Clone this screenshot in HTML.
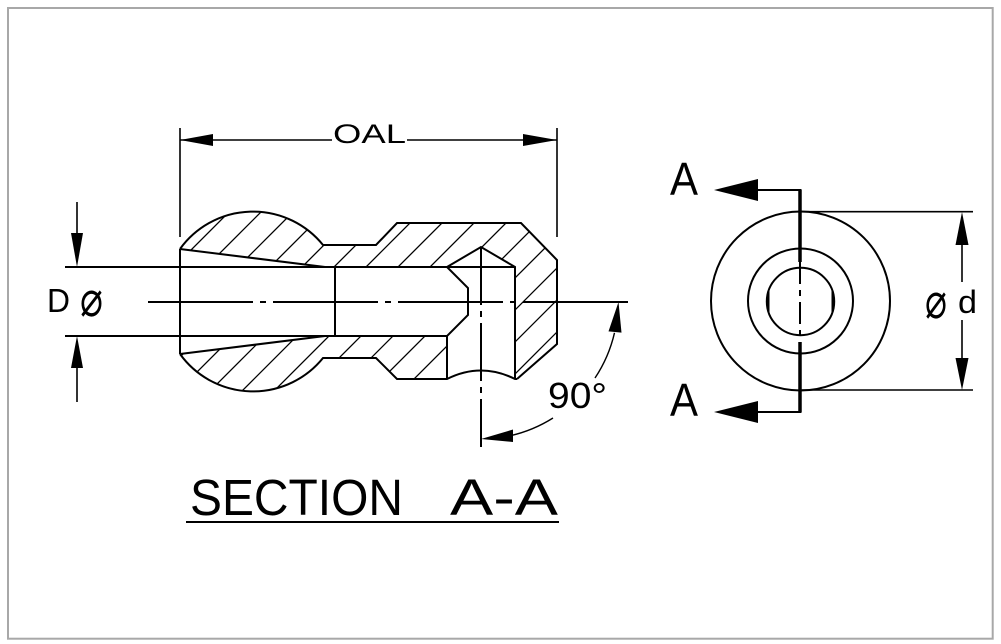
<!DOCTYPE html>
<html>
<head>
<meta charset="utf-8">
<style>
  html, body { margin: 0; padding: 0; background: #fff; }
  svg { display: block; }
  text { font-family: "Liberation Sans", "DejaVu Sans", sans-serif; fill: #000; }
  .sym { font-family: "DejaVu Sans", sans-serif; }
</style>
</head>
<body>
<svg width="1001" height="644" viewBox="0 0 1001 644" xmlns="http://www.w3.org/2000/svg">
  <defs>
    <clipPath id="solid">
      <path d="M180,249 A90,90 0 0 1 323,245 L376,245 L397,223 L521,223 L557,260 L557,344 L517,379 L515,379 L515,267 L481,247 L447,267 L325,267 Z"/>
      <path d="M180,354 L325,336 L447,336 L447,379 L397,379 L376,358 L323,358 A90,90 0 0 1 180,354 Z"/>
    </clipPath>
  </defs>

  <!-- frame -->
  <rect x="8" y="8" width="984.7" height="630.7" fill="none" stroke="#a8a8a8" stroke-width="2"/>

  <!-- hatching -->
  <g clip-path="url(#solid)" stroke="#000" stroke-width="1.3">
    <line x1="9" y1="400" x2="209" y2="200"/>
    <line x1="41" y1="400" x2="241" y2="200"/>
    <line x1="73" y1="400" x2="273" y2="200"/>
    <line x1="105" y1="400" x2="305" y2="200"/>
    <line x1="137" y1="400" x2="337" y2="200"/>
    <line x1="169" y1="400" x2="369" y2="200"/>
    <line x1="201" y1="400" x2="401" y2="200"/>
    <line x1="233" y1="400" x2="433" y2="200"/>
    <line x1="265" y1="400" x2="465" y2="200"/>
    <line x1="297" y1="400" x2="497" y2="200"/>
    <line x1="329" y1="400" x2="529" y2="200"/>
    <line x1="361" y1="400" x2="561" y2="200"/>
    <line x1="393" y1="400" x2="593" y2="200"/>
    <line x1="425" y1="400" x2="625" y2="200"/>
    <line x1="457" y1="400" x2="657" y2="200"/>
    <line x1="489" y1="400" x2="689" y2="200"/>
    <line x1="521" y1="400" x2="721" y2="200"/>
    <line x1="553" y1="400" x2="753" y2="200"/>
  </g>

  <!-- main outlines -->
  <g fill="none" stroke="#000" stroke-width="2" stroke-linejoin="miter">
    <path d="M180,249 A90,90 0 0 1 323,245 L376,245 L397,223 L521,223 L557,260 L557,344 L517,379"/>
    <path d="M180,354 A90,90 0 0 0 323,358 L376,358 L397,379 L447,379 Q481,362 515,379 L517,379"/>
    <path d="M180,249 L180,354"/>
    <path d="M180,249 L325,267"/>
    <path d="M180,354 L325,336"/>
    <path d="M325,267 L515,267"/>
    <path d="M325,336 L447,336"/>
    <path d="M335,267 L335,336"/>
    <path d="M447,267 L468,288 L468,315 L447,336 L447,379"/>
    <path d="M447,267 L481,247 L515,267 L515,379"/>
    <!-- D extension lines -->
    <path d="M65,267 L325,267"/>
    <path d="M65,336 L325,336"/>
  </g>

  <!-- center lines -->
  <g fill="none" stroke="#000" stroke-width="2">
    <path d="M148,302 L630,302" stroke-dasharray="105,7,6,7"/>
    <path d="M481,247 L481,447" stroke-dasharray="58,6,6,6"/>
  </g>

  <!-- OAL dimension -->
  <g stroke="#000" stroke-width="1.6" fill="none">
    <path d="M180,128 L180,237"/>
    <path d="M557,128 L557,237"/>
    <path d="M180,140 L332,140"/>
    <path d="M407,140 L557,140"/>
  </g>
  <polygon points="180,140 213,134 213,146" fill="#000"/>
  <polygon points="557,140 523,134 523,146" fill="#000"/>
  <text x="333" y="143" font-size="27" textLength="73" lengthAdjust="spacingAndGlyphs">OAL</text>

  <!-- D dimension -->
  <g stroke="#000" stroke-width="1.6" fill="none">
    <path d="M77,202 L77,240"/>
    <path d="M77,360 L77,402"/>
  </g>
  <polygon points="77,267 71,233 83,233" fill="#000"/>
  <polygon points="77,336 71,368 83,368" fill="#000"/>
  <text x="47" y="312" font-size="33" textLength="23" lengthAdjust="spacingAndGlyphs">D</text>
  <text class="sym" x="80" y="316" font-size="50" textLength="23" lengthAdjust="spacingAndGlyphs">⌀</text>

  <!-- 90 degree -->
  <g stroke="#000" stroke-width="1.4" fill="none">
    <path d="M614.5,332.8 A137,137 0 0 1 595,378"/>
    <path d="M553,418 A137,137 0 0 1 510,435.8"/>
  </g>
  <polygon points="618.5,302 608.5,331.4 621.5,332.6" fill="#000"/>
  <polygon points="481,439 513,429.5 513,442" fill="#000"/>
  <text x="548" y="408" font-size="36" textLength="59" lengthAdjust="spacingAndGlyphs">90°</text>

  <!-- section title -->
  <text x="190" y="515" font-size="51" textLength="213" lengthAdjust="spacingAndGlyphs">SECTION</text>
  <text x="450" y="515" font-size="51" textLength="108" lengthAdjust="spacingAndGlyphs">A-A</text>
  <line x1="186" y1="522" x2="559" y2="522" stroke="#000" stroke-width="2"/>

  <!-- right view -->
  <g fill="none" stroke="#000" stroke-width="2">
    <circle cx="800.5" cy="301" r="89.5"/>
    <circle cx="800.5" cy="301" r="52.5"/>
    <circle cx="800.5" cy="301.5" r="33.7"/>
    <path d="M768.5,291 L768.5,312"/>
    <path d="M832.5,291 L832.5,312"/>
  </g>

  <!-- section line A-A -->
  <g fill="none" stroke="#000">
    <path d="M800,190 L800,262" stroke-width="3.5"/>
    <path d="M800,342 L800,412" stroke-width="3.5"/>
    <path d="M800,262 L800,342" stroke-width="2" stroke-dasharray="22,6,6,6"/>
    <path d="M758,190 L801.5,190" stroke-width="2"/>
    <path d="M758,412 L801.5,412" stroke-width="2"/>
  </g>
  <polygon points="714,190 758,179 758,201" fill="#000"/>
  <polygon points="714,412 758,401 758,423" fill="#000"/>
  <text x="670" y="195" font-size="46" textLength="28" lengthAdjust="spacingAndGlyphs">A</text>
  <text x="670" y="416" font-size="46" textLength="28" lengthAdjust="spacingAndGlyphs">A</text>

  <!-- d dimension -->
  <g stroke="#000" stroke-width="1.6" fill="none">
    <path d="M800,211.7 L973,211.7"/>
    <path d="M800,390 L973,390"/>
    <path d="M962,240 L962,282"/>
    <path d="M962,320 L962,362"/>
  </g>
  <polygon points="962,212 955.5,245 968.5,245" fill="#000"/>
  <polygon points="962,390 955.5,358 968.5,358" fill="#000"/>
  <text class="sym" x="925" y="318" font-size="50" textLength="22" lengthAdjust="spacingAndGlyphs">⌀</text>
  <text x="958" y="313" font-size="32" textLength="19" lengthAdjust="spacingAndGlyphs">d</text>
</svg>
</body>
</html>
